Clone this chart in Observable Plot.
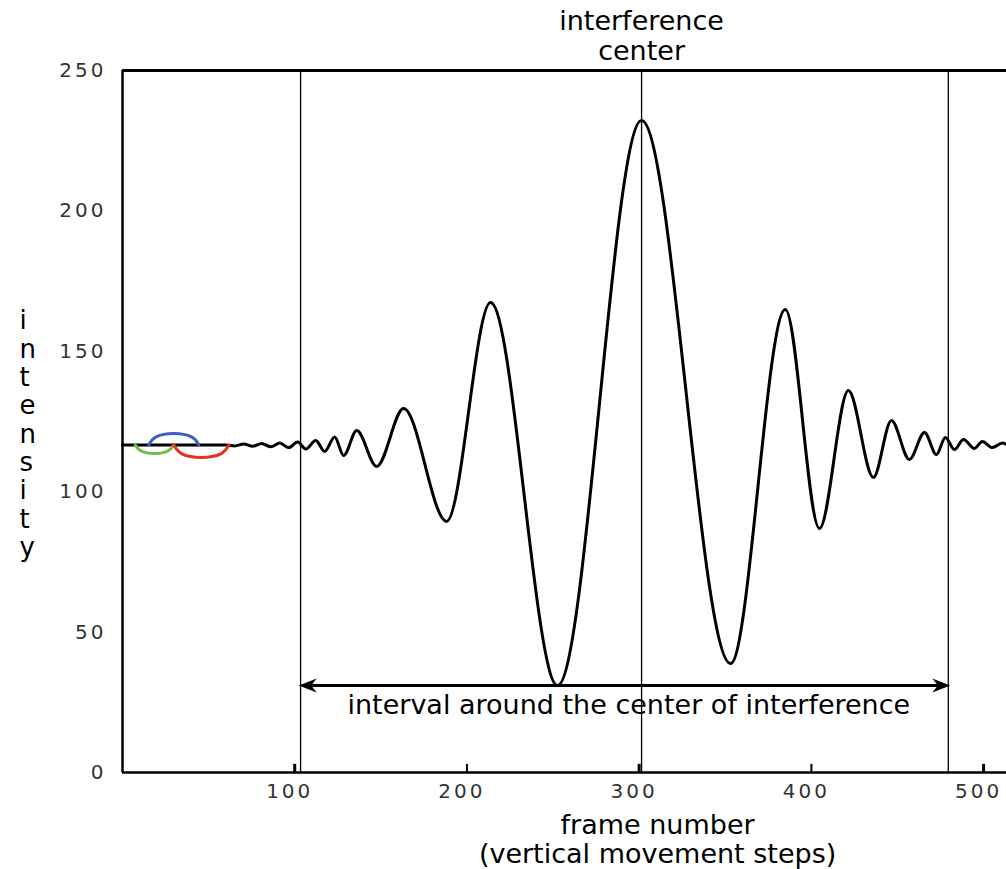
<!DOCTYPE html>
<html><head><meta charset="utf-8">
<script src="https://cdn.jsdelivr.net/npm/d3@7"></script>
<script src="https://cdn.jsdelivr.net/npm/@observablehq/plot@0.6"></script>
<style>
body{margin:0;background:#fff}
#chart svg{overflow:hidden}
</style>
</head><body><div id="chart"></div>
<script>
// interferogram extrema
const frames = [0, 60, 65.2, 70.4, 75.6, 80.8, 86.1, 91.3, 96.5, 101.7, 106.4, 112.2, 117.4, 123.2, 128.4, 136.0, 147.6, 163.2, 188.2, 213.7, 252.6, 301.4, 353.1, 384.9, 404.7, 421.5, 436.0, 446.5, 456.9, 465.7, 472.6, 477.8, 483.1, 488.3, 494.7, 499.3, 505.1, 510.9, 513.3];
const intensity = [116.6, 116.6, 116.3, 117.0, 116.2, 117.2, 116.0, 117.3, 115.7, 117.7, 115.2, 118.2, 114.3, 119.5, 112.9, 121.8, 109.0, 129.6, 89.4, 167.4, 31.0, 232.2, 38.8, 164.9, 86.9, 136.0, 105.1, 125.4, 111.5, 121.1, 113.2, 119.3, 115.0, 118.6, 115.4, 117.9, 115.7, 117.3, 116.8];

// small coloured arcs on the flat start
const blueArcX = [15.3, 19.5, 29.8, 40.1, 44.3];
const blueArcY = [116.6, 119.5, 120.7, 119.5, 116.6];
const greenArcX = [7.4, 10.9, 18.6, 26.3, 29.8];
const greenArcY = [116.6, 114.5, 113.6, 114.5, 116.6];
const redArcX = [29.8, 34.5, 45.8, 57.1, 61.8];
const redArcY = [116.6, 113.5, 112.2, 113.5, 116.6];

// markers
const intervalLines = [103.4, 301.4, 479.5];
const arrowEnds = [102.3, 480.7];
const arrowLevel = 31;

const xTicks = [100, 200, 300, 400, 500];
const yTicks = [0, 50, 100, 150, 200, 250];

const xDomain = [0, 513.3];
const yDomain = [0, 250];

const topLabel = "interference\ncenter";
const intervalLabel = "interval around the center of interference";
const xLabel = "frame number\n(vertical movement steps)";
const yLabel = "intensity".split("").join("\n");

const curve = frames.map((f, i) => ({f, v: intensity[i]}));
const arcs = [
  ...blueArcX.map((x, i) => ({x, y: blueArcY[i], c: "blue"})),
  ...greenArcX.map((x, i) => ({x, y: greenArcY[i], c: "green"})),
  ...redArcX.map((x, i) => ({x, y: redArcY[i], c: "red"}))
];
const arcColor = {blue: "#3d5fc4", green: "#6cbf48", red: "#e8321e"};
const arrowMid = (arrowEnds[0] + arrowEnds[1]) / 2;

// barbed, filled arrowhead pointing to +x with its tip at the origin
const barbHead = {
  draw(ctx) {
    ctx.moveTo(0, 0);
    ctx.lineTo(-18, -7);
    ctx.lineTo(-12.5, 0);
    ctx.lineTo(-18, 7);
    ctx.closePath();
  }
};

const chart = Plot.plot({
  width: 1006, height: 869,
  marginLeft: 122, marginRight: 0, marginTop: 70, marginBottom: 97,
  x: {domain: xDomain},
  y: {domain: yDomain},
  style: {fontFamily: "DejaVu Sans", background: "white", color: "black"},
  marks: [
    Plot.axisY({ticks: yTicks, tickSize: 0, tickPadding: 16, fontSize: 20, label: null, fill: "#333"}),
    Plot.axisX({ticks: xTicks, tickSize: 0, tickPadding: 11, fontSize: 20, label: null, fill: "#333", dx: -5}),
    Plot.ruleX(xTicks, {y1: 0, y2: 2.9, strokeWidth: (d) => (d % 200 === 100 ? 3 : 2)}),
    Plot.ruleX(intervalLines, {y1: yDomain[0], y2: yDomain[1], strokeWidth: 1.3, stroke: "black"}),
    Plot.ruleY([yDomain[0]], {strokeWidth: 2.5}),
    Plot.ruleY([yDomain[1]], {strokeWidth: 3.2}),
    Plot.ruleX([xDomain[0]], {strokeWidth: 2.5}),
    Plot.line(curve, {x: "f", y: "v", curve: "monotone-x", stroke: "black", strokeWidth: 3}),
    Plot.line(arcs, {x: "x", y: "y", z: "c", stroke: (d) => arcColor[d.c], curve: "natural", strokeWidth: 3}),
    Plot.ruleY([arrowLevel], {x1: arrowEnds[0], x2: arrowEnds[1], strokeWidth: 3, stroke: "black", insetLeft: 8, insetRight: 8}),
    Plot.dot(arrowEnds, {x: (d) => d, y: () => arrowLevel, symbol: barbHead, r: 6, fill: "black", stroke: "none",
      rotate: (d, i) => (i === 0 ? 180 : 0)}),
    Plot.text([intervalLabel], {x: () => arrowMid + 2.5, y: () => arrowLevel, dy: 20, fontSize: 27, fill: "black"}),
    Plot.text([topLabel], {x: () => intervalLines[1], frameAnchor: "top", lineAnchor: "bottom", dy: -11, fontSize: 27, lineHeight: 1.11, fill: "black"}),
    Plot.text([xLabel], {x: () => 310.7, frameAnchor: "bottom", lineAnchor: "top", dy: 41, fontSize: 27, lineHeight: 1.08, fill: "black"}),
    Plot.text([yLabel], {frameAnchor: "left", dx: -103, dy: 12, fontSize: 26, lineHeight: 1.09, fill: "black"})
  ]
});
chart.querySelectorAll('g[aria-label="y-axis tick label"] text, g[aria-label="x-axis tick label"] text').forEach(t => t.style.letterSpacing = "3px");
document.getElementById("chart").appendChild(chart);
</script>
</body></html>
